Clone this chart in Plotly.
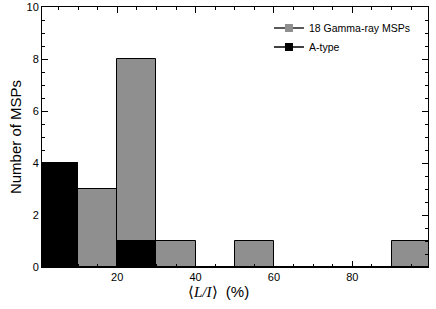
import plotly.graph_objects as go

bin_left = [0, 10, 20, 30, 40, 50, 60, 70, 80, 90]
gamma_counts = [4, 3, 8, 1, 0, 1, 0, 0, 0, 1]
atype_counts = [4, 0, 1, 0, 0, 0, 0, 0, 0, 0]
series_names = ["18 Gamma-ray MSPs", "A-type"]
x_ticks = [20, 40, 60, 80]
y_ticks = [0, 2, 4, 6, 8, 10]

GRAY = "#8f8f8f"
BLACK = "#000000"

fig = go.Figure()
fig.add_trace(go.Bar(x=bin_left, y=gamma_counts, width=10, offset=0,
                     marker=dict(color=GRAY, line=dict(color=BLACK, width=1)),
                     showlegend=False))
fig.add_trace(go.Bar(x=bin_left, y=atype_counts, width=10, offset=0,
                     marker=dict(color=BLACK, line=dict(color=BLACK, width=1)),
                     showlegend=False))
# legend entries (line + square marker)
fig.add_trace(go.Scatter(x=[None], y=[None], mode="lines+markers", name=series_names[0],
                         line=dict(color="#222", width=1.3),
                         marker=dict(symbol="square", size=8, color=GRAY)))
fig.add_trace(go.Scatter(x=[None], y=[None], mode="lines+markers", name=series_names[1],
                         line=dict(color=BLACK, width=1.3),
                         marker=dict(symbol="square", size=8, color=BLACK)))

axis_common = dict(showline=True, linecolor="black", linewidth=1, mirror="ticks",
                   ticks="inside", tickcolor="black", ticklen=6, tickwidth=1,
                   showgrid=False, zeroline=False, automargin=False,
                   tickfont=dict(family="Liberation Sans, Arial", size=11, color="black"))

fig.update_layout(
    width=436, height=309,
    margin=dict(l=42, r=8, t=7, b=42),
    plot_bgcolor="white", paper_bgcolor="white",
    barmode="overlay", bargap=0,
    font=dict(family="Liberation Sans, Arial", color="black"),
    legend=dict(x=0.588, y=0.975, xanchor="left", yanchor="top",
                bgcolor="rgba(0,0,0,0)", font=dict(size=10.5, color="black"),
                itemwidth=30, tracegroupgap=0),
    xaxis=dict(range=[0.8, 99.3], tickvals=x_ticks,
               minor=dict(dtick=5, tick0=0, ticks="inside", ticklen=3, tickcolor="black", showgrid=False),
               **axis_common),
    yaxis=dict(range=[0, 10], tickvals=y_ticks,
               minor=dict(dtick=0.5, tick0=0, ticks="inside", ticklen=3, tickcolor="black", showgrid=False),
               title=dict(text="Number of MSPs", font=dict(size=15), standoff=1),
               **axis_common),
    annotations=[dict(text="⟨<span style='font-family:Liberation Serif'><i>L/I</i></span>⟩  (%)",
                      xref="paper", yref="paper", x=0.458, y=-0.093,
                      xanchor="center", yanchor="middle", showarrow=False,
                      font=dict(size=15, color="black"))],
)

fig.write_html("out.html", config={"displayModeBar": False},
               post_script="document.body.style.margin='0';document.body.style.overflow='hidden';")
